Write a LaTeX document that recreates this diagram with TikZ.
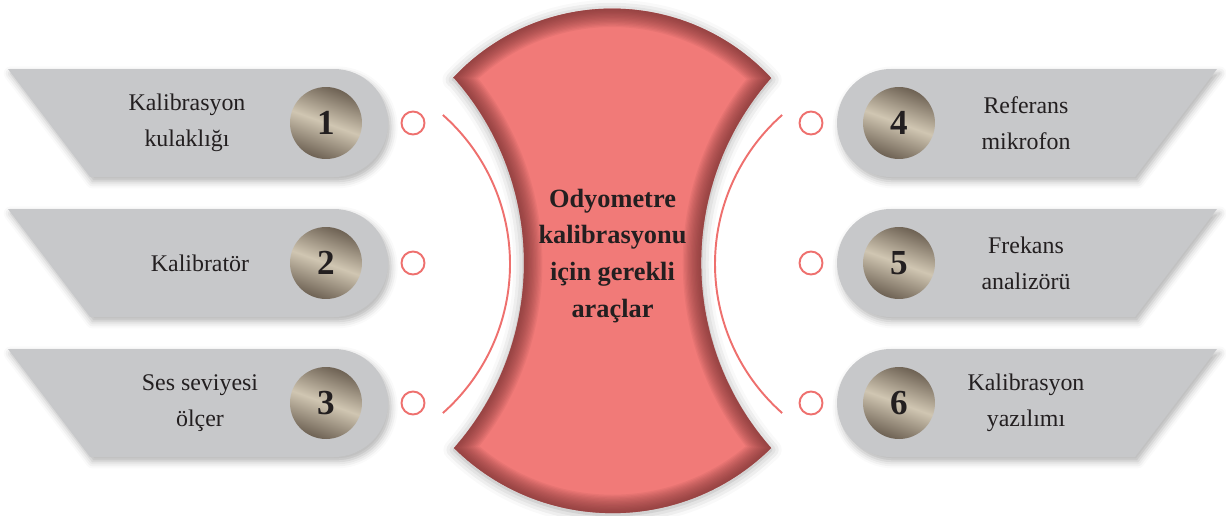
\documentclass[tikz,border=0pt]{standalone}
\usepackage{fontspec}
\setmainfont{Liberation Serif}
\usetikzlibrary{positioning, shadows.blur}
\definecolor{bannergray}{RGB}{199,200,202}
\definecolor{odypink}{RGB}{241,122,120}
\definecolor{odydark}{RGB}{110,45,45}
\definecolor{ringpink}{RGB}{238,112,110}
\definecolor{textdark}{RGB}{35,31,32}
\definecolor{metaldark}{RGB}{110,98,84}
\definecolor{metallight}{RGB}{208,198,178}
% outline of the central (hourglass) panel, in pixel units
\newcommand{\odyshape}{(453,437) arc[start angle=137.15, end angle=42.85, radius=217]
  arc[start angle=138.55, end angle=221.45, radius=279.5]
  arc[start angle=314.65, end angle=225.35, radius=225.7]
  arc[start angle=-41.45, end angle=41.45, radius=279.5] -- cycle}
\tikzset{
  banner/.style={fill=bannergray, blur shadow={shadow xshift=1.5pt, shadow yshift=-2.5pt, shadow blur radius=4pt, shadow opacity=30}},
  numdisc/.style={circle, minimum size=1.44cm, inner sep=0pt, top color=metaldark, bottom color=metaldark, middle color=metallight, shading angle=-20, text=textdark, font=\fontsize{20}{24}\selectfont\bfseries},
  itemtext/.style={align=center, text=textdark, font=\fontsize{13.6}{20.5}\selectfont},
  ring/.style={circle, draw=ringpink, line width=1.1pt, minimum size=0.46cm, inner sep=0pt},
  bracket/.style={draw=ringpink, line width=1.1pt}
}

\begin{document}
\begin{tikzpicture}[x=0.02cm, y=0.02cm]
  \useasboundingbox (0,0) rectangle (1226,515);

  % central panel
  \path[fill=odypink, blur shadow={shadow xshift=0pt, shadow yshift=-1pt, shadow blur radius=6pt, shadow opacity=35}] \odyshape;
  \begin{scope}
    \clip \odyshape;
    \foreach \w in {1.5,3,...,21} \draw[odydark, line width=\w pt, opacity=0.07] \odyshape;
  \end{scope}
  \node[align=center, text=textdark, font=\fontsize{15}{21}\selectfont\bfseries] (title) at (612.5,259) {Odyometre\\kalibrasyonu\\için gerekli\\araçlar};

  % thin arcs beside the panel
  \draw[bracket] (311,251) ++(48.5:199) arc[start angle=48.5, end angle=-48.5, radius=199];
  \draw[bracket] (914,251) ++(131.5:199) arc[start angle=131.5, end angle=228.5, radius=199];

  % left banners
  \path[banner] (8,446) -- (334,446) arc[start angle=90, end angle=-90, radius=54] -- (90,338) -- cycle;
  \path[banner] (8,306) -- (334,306) arc[start angle=90, end angle=-90, radius=54] -- (90,198) -- cycle;
  \path[banner] (8,166) -- (334,166) arc[start angle=90, end angle=-90, radius=54] -- (90,58) -- cycle;
  \node[numdisc] (n1) at (326,392) {1};
  \node[numdisc] (n2) at (326,252) {2};
  \node[numdisc] (n3) at (326,112) {3};
  \node[itemtext] (t1) at (187,392) {Kalibrasyon\\kulaklığı};
  \node[itemtext] (t2) at (200,252) {Kalibratör};
  \node[itemtext] (t3) at (200,112) {Ses seviyesi\\ölçer};
  \node[ring] (r1) at (413,392) {};
  \node[ring] (r2) at (413,252) {};
  \node[ring] (r3) at (413,112) {};

  % right banners
  \path[banner] (1217,446) -- (891,446) arc[start angle=90, end angle=270, radius=54] -- (1135,338) -- cycle;
  \path[banner] (1217,306) -- (891,306) arc[start angle=90, end angle=270, radius=54] -- (1135,198) -- cycle;
  \path[banner] (1217,166) -- (891,166) arc[start angle=90, end angle=270, radius=54] -- (1135,58) -- cycle;
  \node[numdisc] (n4) at (899,392) {4};
  \node[numdisc] (n5) at (899,252) {5};
  \node[numdisc] (n6) at (899,112) {6};
  \node[itemtext] (t4) at (1026,392) {Referans\\mikrofon};
  \node[itemtext] (t5) at (1026,252) {Frekans\\analizörü};
  \node[itemtext] (t6) at (1026,112) {Kalibrasyon\\yazılımı};
  \node[ring] (r4) at (811,392) {};
  \node[ring] (r5) at (811,252) {};
  \node[ring] (r6) at (811,112) {};
\end{tikzpicture}
\end{document}
